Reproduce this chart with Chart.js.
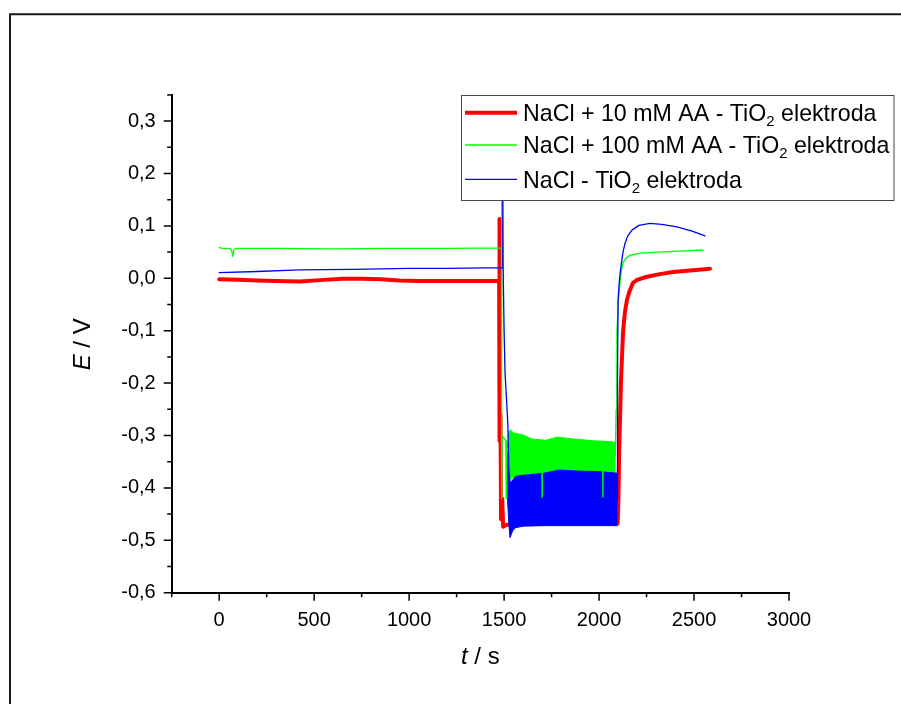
<!DOCTYPE html>
<html>
<head>
<meta charset="utf-8">
<title>E / V vs t / s</title>
<script src="https://cdn.jsdelivr.net/npm/chart.js@4.4.1/dist/chart.umd.min.js"></script>
<style>
  html, body { margin: 0; padding: 0; background: #fff; }
  canvas { display: block; }
</style>
</head>
<body>
<canvas id="chart" width="901" height="704"></canvas>
<script>
// ============================================================
// Data
// ============================================================

const xTicks = [0, 500, 1000, 1500, 2000, 2500, 3000];
const yTicks = [-0.6, -0.5, -0.4, -0.3, -0.2, -0.1, 0.0, 0.1, 0.2, 0.3];

const seriesLabels = [
  'NaCl + 10 mM AA - TiO₂ elektroda',
  'NaCl + 100 mM AA - TiO₂ elektroda',
  'NaCl - TiO₂ elektroda'
];

// NaCl + 10 mM AA (red, thick)
const redT = [0, 100, 200, 300, 425, 550, 650, 750, 850, 950, 1050, 1200, 1350, 1474,
  1475, 1477, 1481, 1484, 1490, 1495, 1510, 1560, 1626, 1627, 1628, 1700, 1701, 1702,
  1800, 1900, 2020, 2021, 2022, 2098, 2102, 2106, 2115, 2126, 2136, 2147, 2160, 2178,
  2200, 2252, 2320, 2389, 2480, 2584];
const redE = [-0.002, -0.003, -0.004, -0.005, -0.006, -0.003, -0.001, -0.001, -0.002, -0.004, -0.005, -0.005, -0.005, -0.005,
  0.113, -0.31, -0.26, -0.46, -0.42, -0.474, -0.471, -0.469, -0.469, -0.457, -0.469, -0.469, -0.43, -0.469,
  -0.469, -0.469, -0.469, -0.43, -0.469, -0.468, -0.42, -0.33, -0.2, -0.104, -0.065, -0.041, -0.025, -0.009,
  -0.003, 0.003, 0.008, 0.012, 0.015, 0.018];

// NaCl + 100 mM AA (green)
const greenT = [0, 15, 55, 65, 71, 77, 90, 300, 600, 900, 1200, 1486, 1487, 1488, 1490, 1509, 1511, 1514,
  1530, 1600, 1699, 1700, 1701, 1800, 1900, 2019, 2020, 2021, 2085, 2090, 2094, 2102, 2110, 2118,
  2126, 2140, 2163, 2220, 2305, 2420, 2547];
const greenE = [0.059, 0.057, 0.057, 0.054, 0.042, 0.055, 0.057, 0.057, 0.056, 0.057, 0.057, 0.058, 0.2, -0.42, -0.30, -0.31, -0.42, -0.31,
  -0.34, -0.345, -0.34, -0.42, -0.34, -0.34, -0.34, -0.34, -0.42, -0.34, -0.34, -0.25, -0.104, -0.04, -0.009, 0.015,
  0.029, 0.038, 0.044, 0.048, 0.050, 0.052, 0.054];

// NaCl (blue)
const blueT = [0, 200, 425, 700, 1000, 1200, 1400, 1491, 1493, 1495, 1500, 1505, 1520, 1532, 1545, 1600,
  1800, 2000, 2095, 2097, 2100, 2108, 2115, 2126, 2137, 2150, 2173, 2210, 2268, 2330, 2410, 2490, 2558];
const blueE = [0.011, 0.013, 0.016, 0.017, 0.019, 0.019, 0.020, 0.020, 0.2, 0.02, -0.10, -0.18, -0.28, -0.494, -0.43, -0.42,
  -0.42, -0.42, -0.42, -0.2, -0.041, 0.0, 0.022, 0.05, 0.067, 0.08, 0.092, 0.101, 0.105, 0.103, 0.098, 0.09, 0.081];

// noise envelopes of the plateau (upper / lower edge of the dense oscillation)
const greenBandT  = [1520, 1532, 1550, 1600, 1650, 1720, 1780, 1850, 1968, 2073, 2088];
const greenBandHi = [-0.30, -0.289, -0.295, -0.299, -0.307, -0.309, -0.303, -0.306, -0.310, -0.312, -0.315];
const greenBandLo = [-0.36, -0.385, -0.379, -0.376, -0.374, -0.372, -0.366, -0.368, -0.369, -0.372, -0.372];

const blueBandT  = [1515, 1525, 1532, 1545, 1560, 1600, 1710, 1790, 1900, 2000, 2098];
const blueBandHi = [-0.33, -0.37, -0.39, -0.385, -0.378, -0.376, -0.372, -0.366, -0.368, -0.369, -0.372];
const blueBandLo = [-0.40, -0.47, -0.494, -0.482, -0.476, -0.473, -0.472, -0.472, -0.472, -0.472, -0.472];

// ============================================================
// Helpers
// ============================================================

const FONT = '"Liberation Sans", Arial, Helvetica, sans-serif';
const RED = '#ff0000', GREEN = '#00ff00', BLUE = '#0000ff';

function pts(t, e) {
  return t.map((x, i) => ({ x: x, y: e[i] }));
}

function lineSet(label, t, e, color, width, order) {
  return {
    label: label, data: pts(t, e), borderColor: color, backgroundColor: color,
    borderWidth: width, pointRadius: 0, tension: 0, fill: false, order: order,
    borderJoinStyle: 'round', borderCapStyle: 'round'
  };
}

function bandSets(label, t, hi, lo, color, order) {
  return [
    { label: label + ' (low)', data: pts(t, lo), borderColor: color, backgroundColor: color,
      borderWidth: 1, pointRadius: 0, tension: 0, fill: false, order: order + 1 },
    { label: label + ' (high)', data: pts(t, hi), borderColor: color, backgroundColor: color,
      borderWidth: 1, pointRadius: 0, tension: 0, fill: '-1', order: order }
  ];
}

// text with a subscript 2 (TiO2)
function drawRich(ctx, text, x, y, size) {
  const parts = text.split('₂');
  ctx.font = size + 'px ' + FONT;
  ctx.fillText(parts[0], x, y);
  x += ctx.measureText(parts[0]).width;
  if (parts.length > 1) {
    ctx.font = Math.round(size * 0.64) + 'px ' + FONT;
    ctx.fillText('2', x, y + 5);
    x += ctx.measureText('2').width;
    ctx.font = size + 'px ' + FONT;
    ctx.fillText(parts[1], x, y);
  }
}

// pieces: [[text, italic], ...] drawn centred on (0,0) of current transform
function drawMixed(ctx, pieces, size) {
  let total = 0;
  pieces.forEach(p => {
    ctx.font = (p[1] ? 'italic ' : '') + size + 'px ' + FONT;
    total += ctx.measureText(p[0]).width;
  });
  let x = -total / 2;
  pieces.forEach(p => {
    ctx.font = (p[1] ? 'italic ' : '') + size + 'px ' + FONT;
    ctx.fillText(p[0], x, 0);
    x += ctx.measureText(p[0]).width;
  });
}

// ============================================================
// Decorations: frame, tick marks, axis titles, legend
// ============================================================

const decor = {
  id: 'decor',
  beforeDraw(chart) {
    const ctx = chart.ctx;
    ctx.save();
    ctx.fillStyle = '#fff';
    ctx.fillRect(0, 0, chart.width, chart.height);
    ctx.strokeStyle = '#1a1a1a';
    ctx.lineWidth = 2;
    ctx.beginPath();
    ctx.moveTo(10, chart.height);
    ctx.lineTo(10, 14.3);
    ctx.lineTo(chart.width, 14.3);
    ctx.stroke();
    ctx.restore();
  },
  afterDraw(chart) {
    const ctx = chart.ctx;
    const xs = chart.scales.x, ys = chart.scales.y;
    const area = chart.chartArea;
    ctx.save();

    // major + minor tick marks, pointing outwards
    ctx.strokeStyle = '#000';
    ctx.lineWidth = 1.5;
    ctx.beginPath();
    for (let v = xs.min; v <= xs.max + 1e-6; v += 250) {
      const px = xs.getPixelForValue(v);
      const len = Math.abs(v % 500) < 1e-6 ? 8 : 4.5;
      ctx.moveTo(px, area.bottom);
      ctx.lineTo(px, area.bottom + len);
    }
    for (let i = 0; ys.min + i * 0.05 <= ys.max + 1e-6; i++) {
      const py = ys.getPixelForValue(ys.min + i * 0.05);
      const len = i % 2 === 0 ? 8 : 4.5;
      ctx.moveTo(area.left, py);
      ctx.lineTo(area.left - len, py);
    }
    ctx.stroke();

    // axis titles
    ctx.fillStyle = '#000';
    ctx.textBaseline = 'alphabetic';
    ctx.textAlign = 'left';
    ctx.save();
    ctx.translate((area.left + area.right) / 2, 664);
    drawMixed(ctx, [['t', true], [' / s', false]], 24);
    ctx.restore();
    ctx.save();
    ctx.translate(90, (area.top + area.bottom) / 2 + 0.5);
    ctx.rotate(-Math.PI / 2);
    drawMixed(ctx, [['E', true], [' / V', false]], 24);
    ctx.restore();

    // legend box
    const box = { left: 461.5, top: 95.5, right: 894, bottom: 200.5 };
    ctx.fillStyle = '#fff';
    ctx.fillRect(box.left, box.top, box.right - box.left, box.bottom - box.top);
    ctx.strokeStyle = '#444';
    ctx.lineWidth = 1;
    ctx.strokeRect(box.left, box.top, box.right - box.left, box.bottom - box.top);
    const rows = [112.7, 145, 179.3];
    for (let i = 0; i < 3; i++) {
      const ds = chart.data.datasets[i];
      ctx.strokeStyle = ds.borderColor;
      ctx.lineWidth = ds.borderWidth;
      ctx.lineCap = 'butt';
      ctx.beginPath();
      ctx.moveTo(465, rows[i]);
      ctx.lineTo(517, rows[i]);
      ctx.stroke();
      ctx.fillStyle = '#000';
      drawRich(ctx, ds.label, 523, rows[i] + 8.3, 23.2);
    }
    ctx.restore();
  }
};

// ============================================================
// Chart
// ============================================================

const tickFont = { family: FONT, size: 20 };

// order: lower number is drawn on top; red lies under the noise bands
const datasets = [
  lineSet(seriesLabels[0], redT, redE, RED, 4, 10),
  lineSet(seriesLabels[1], greenT, greenE, GREEN, 1.3, 2),
  lineSet(seriesLabels[2], blueT, blueE, BLUE, 1.3, 1)
].concat(
  bandSets(seriesLabels[1], greenBandT, greenBandHi, greenBandLo, GREEN, 7),
  bandSets(seriesLabels[2], blueBandT, blueBandHi, blueBandLo, BLUE, 5)
);

new Chart(document.getElementById('chart'), {
  type: 'line',
  data: { datasets: datasets },
  options: {
    responsive: false,
    animation: false,
    events: [],
    layout: { padding: { top: 94.9, right: 112, bottom: 0, left: 0 } },
    plugins: { legend: { display: false }, tooltip: { enabled: false } },
    scales: {
      x: {
        type: 'linear',
        min: -250,
        max: 3000,
        afterBuildTicks(scale) { scale.ticks = xTicks.map(v => ({ value: v })); },
        afterFit(scale) { scale.height = 111.3; },
        grid: { display: false, drawTicks: false },
        border: { display: true, color: '#000', width: 2 },
        ticks: {
          font: tickFont, color: '#000', padding: 16, maxRotation: 0, autoSkip: false,
          callback: v => String(v)
        }
      },
      y: {
        type: 'linear',
        min: -0.6,
        max: 0.35,
        afterBuildTicks(scale) { scale.ticks = yTicks.map(v => ({ value: v })); },
        afterFit(scale) { scale.width = 171.7; },
        grid: { display: false, drawTicks: false },
        border: { display: true, color: '#000', width: 2 },
        ticks: {
          font: tickFont, color: '#000', padding: 16, autoSkip: false,
          callback: v => v.toFixed(1).replace('.', ',')
        }
      }
    }
  },
  plugins: [decor]
});
</script>
</body>
</html>
